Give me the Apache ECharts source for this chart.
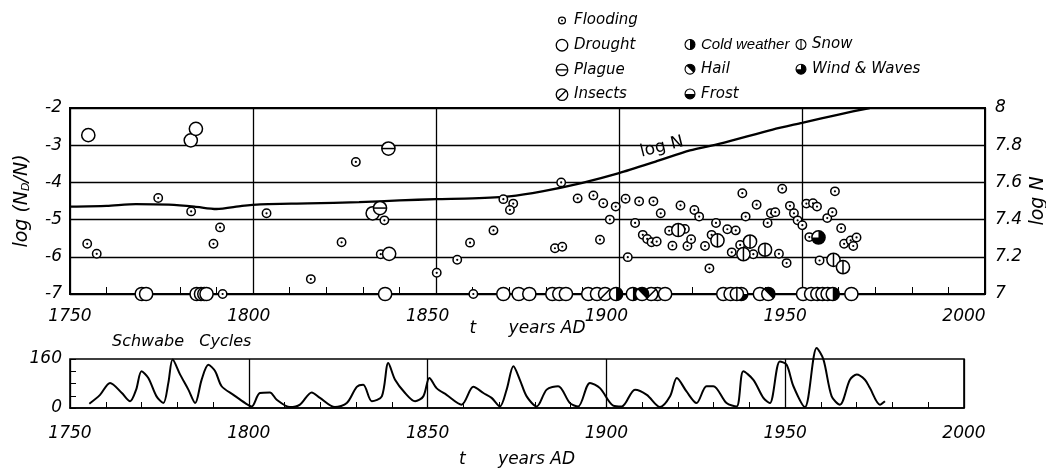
<!DOCTYPE html>
<html><head><meta charset="utf-8">
<script src="https://cdn.jsdelivr.net/npm/echarts@6/dist/echarts.min.js"></script>
<style>html,body{margin:0;padding:0;background:#fff}#c{width:1046px;height:469px}</style>
</head><body><div id="c"></div>
<script>
// ---------- data ----------
const yearTicks = [1750, 1800, 1850, 1900, 1950, 2000];
const leftTicks = [-7, -6, -5, -4, -3, -2];
const rightTicks = [7, 7.2, 7.4, 7.6, 7.8, 8];
const sunTickLabels = [0, 160];

const flooding = [[1754.7,-5.65],[1757.3,-5.92],[1774.1,-4.42],[1783.1,-4.78],[1789.2,-5.65],[1791,-5.21],[1791.7,-7],[1803.7,-4.83],[1815.8,-6.6],[1824.2,-5.61],[1828.1,-3.45],[1835.9,-5.02],[1834.9,-5.93],[1850.2,-6.43],[1855.8,-6.08],[1859.3,-5.62],[1860.2,-7],[1865.7,-5.29],[1868.4,-4.45],[1871.1,-4.57],[1870.2,-4.74],[1882.5,-5.77],[1884.5,-5.73],[1884.2,-4.0],[1888.7,-4.43],[1893,-4.35],[1894.8,-5.54],[1895.7,-4.56],[1897.5,-5.0],[1899.1,-4.65],[1901.8,-4.44],[1902.4,-6.01],[1904.4,-5.09],[1905.5,-4.51],[1906.5,-5.41],[1907.7,-5.52],[1908.9,-5.61],[1910.3,-5.59],[1909.4,-4.51],[1911.4,-4.83],[1913.7,-5.3],[1914.6,-5.7],[1916.8,-4.62],[1918,-5.25],[1918.7,-5.71],[1919.7,-5.53],[1920.6,-4.74],[1921.9,-4.92],[1923.5,-5.71],[1924.7,-6.31],[1925.3,-5.41],[1926.5,-5.09],[1929.6,-5.26],[1930.8,-5.88],[1931.9,-5.29],[1933.1,-5.68],[1933.7,-4.29],[1934.6,-4.92],[1936.7,-5.93],[1937.6,-4.6],[1940.6,-5.09],[1941.5,-4.83],[1942.7,-4.8],[1943.7,-5.92],[1944.6,-4.17],[1945.8,-6.17],[1946.7,-4.63],[1947.8,-4.83],[1948.8,-5.02],[1950.1,-5.15],[1951.2,-4.57],[1952,-5.47],[1953,-4.56],[1954.1,-4.65],[1954.8,-6.1],[1956.9,-4.96],[1958.3,-4.8],[1959,-4.24],[1960.7,-5.23],[1961.5,-5.65],[1963.3,-5.56],[1964,-5.71],[1964.9,-5.48]];
const drought = [[1755,-2.73],[1783,-2.87],[1784.4,-2.56],[1832.7,-4.83],[1837.2,-5.92],[1769.6,-7],[1770.8,-7],[1784.6,-7],[1785.8,-7],[1786.7,-7],[1787.3,-7],[1836.1,-7],[1868.4,-7],[1872.6,-7],[1875.5,-7],[1881.8,-7],[1883.7,-7],[1885.5,-7],[1891.6,-7],[1894,-7],[1910.5,-7],[1912.6,-7],[1928.5,-7],[1930.5,-7],[1938.5,-7],[1950.3,-7],[1952.5,-7],[1963.5,-7]];
const plague = [[1837,-3.09],[1834.7,-4.69]];
const insects = [[1896.2,-7],[1908.8,-7]];
const coldWeather = [[1899.2,-7],[1903.8,-7],[1954.2,-7],[1955.6,-7],[1957,-7],[1958.4,-7]];
const hail = [[1906.3,-7],[1940.8,-7]];
const frost = [[1933.4,-7]];
const snow = [[1916.2,-5.28],[1926.9,-5.56],[1934,-5.93],[1935.8,-5.59],[1939.9,-5.81],[1958.6,-6.08],[1961.2,-6.28],[1932.2,-7]];
const windWaves = [[1954.5,-5.48]];

const logNYears  = [1750,1760,1768,1777,1784,1790,1797,1802,1815,1829,1840,1850,1860,1870,1879,1890,1900,1910,1919.4,1927.6,1942,1950,1960,1968.5];
const logNValues = [7.47,7.474,7.483,7.48,7.47,7.457,7.474,7.482,7.487,7.494,7.503,7.51,7.514,7.525,7.552,7.598,7.65,7.712,7.772,7.808,7.884,7.92,7.965,8.0];

const sunYears  = [1755.4,1758.4,1761.2,1764.5,1766.8,1768.5,1770,1771.9,1774.2,1776.1,1777.5,1778.7,1780.8,1783.1,1785,1786.8,1788.7,1790.6,1792.4,1795.7,1799,1800.8,1803.1,1805.9,1807.8,1811.5,1814.3,1817.6,1819.9,1824.1,1827.4,1830.2,1832,1834.4,1837.2,1839,1840.9,1843.7,1846.5,1848.8,1850.5,1852.5,1855.3,1859.5,1862.8,1865.6,1867.9,1870.2,1872.1,1874,1875.8,1877.7,1880.5,1883.3,1886.5,1889.8,1892.1,1895.4,1898.2,1901.9,1904.3,1908,1911.3,1915,1917.8,1919.7,1922.4,1925.2,1928,1929.9,1933.6,1936.4,1938.3,1941.1,1943.9,1945.7,1948.5,1950.4,1952.3,1955.5,1958.8,1960.7,1963,1965.3,1968.1,1970,1972.3,1973.7,1976.5,1977.9];
const sunValues = [14,43,82,49,22,60,120,98,38,16,82,158,109,60,16,92,141,120,71,43,16,5,49,51,27,3,11,51,33,3,16,69,76,22,38,147,92,49,22,38,98,65,43,11,69,49,33,5,60,136,92,38,5,60,71,16,5,82,65,8,5,60,43,3,38,98,54,16,71,71,16,5,120,92,33,16,152,141,71,3,196,158,38,11,92,109,92,65,11,22];

// ---------- styling / helpers ----------
const FONT = 'DejaVu Sans';
const txt = (size, extra) => Object.assign({fontFamily: FONT, fontStyle: 'italic', fontSize: size, color: '#000'}, extra || {});

const categories = [
  {name: 'Flooding', data: flooding, kind: 'flood'},
  {name: 'Drought', data: drought, kind: 'plain'},
  {name: 'Plague', data: plague, kind: 'hline'},
  {name: 'Insects', data: insects, kind: 'slash'},
  {name: 'Cold weather', data: coldWeather, kind: 'right'},
  {name: 'Hail', data: hail, kind: 'ne'},
  {name: 'Frost', data: frost, kind: 'bottom'},
  {name: 'Snow', data: snow, kind: 'vline'},
  {name: 'Wind & Waves', data: windWaves, kind: 'three'}
];
const SECTORS = {
  right: [-Math.PI/2, Math.PI/2],
  ne: [-3*Math.PI/4, Math.PI/4],
  bottom: [0, Math.PI],
  three: [-Math.PI/2, Math.PI]
};

function makeRender(kind) {
  return function (params, api) {
    const p = api.coord([api.value(0), api.value(1)]);
    const cx = p[0], cy = p[1];
    const r = kind === 'flood' ? 4.2 : 6.6;
    const lw = 1.5;
    const ch = [{type: 'circle', shape: {cx, cy, r}, style: {fill: '#fff', stroke: '#000', lineWidth: lw}}];
    const d = r * 0.72;
    if (kind === 'flood') ch.push({type: 'circle', shape: {cx, cy, r: 1.1}, style: {fill: '#000'}});
    if (kind === 'hline') ch.push({type: 'line', shape: {x1: cx - r, y1: cy, x2: cx + r, y2: cy}, style: {stroke: '#000', lineWidth: lw}});
    if (kind === 'vline') ch.push({type: 'line', shape: {x1: cx, y1: cy - r, x2: cx, y2: cy + r}, style: {stroke: '#000', lineWidth: lw}});
    if (kind === 'slash') ch.push({type: 'line', shape: {x1: cx - d, y1: cy + d, x2: cx + d, y2: cy - d}, style: {stroke: '#000', lineWidth: lw}});
    if (SECTORS[kind]) {
      const a = SECTORS[kind];
      ch.push({type: 'sector', shape: {cx, cy, r0: 0, r: r, startAngle: a[0], endAngle: a[1], clockwise: true}, style: {fill: '#000'}});
    }
    return {type: 'group', children: ch};
  };
}

function iconFor(kind) {
  const R = kind === 'flood' ? 3.9 : 6.6, c = 8;
  let s = `<svg xmlns="http://www.w3.org/2000/svg" width="16" height="16" viewBox="0 0 16 16"><circle cx="${c}" cy="${c}" r="${R}" fill="white" stroke="black" stroke-width="1.5"/>`;
  const d = R * 0.72;
  if (kind === 'flood') s += `<circle cx="${c}" cy="${c}" r="1.1" fill="black"/>`;
  if (kind === 'hline') s += `<line x1="${c-R}" y1="${c}" x2="${c+R}" y2="${c}" stroke="black" stroke-width="1.5"/>`;
  if (kind === 'vline') s += `<line x1="${c}" y1="${c-R}" x2="${c}" y2="${c+R}" stroke="black" stroke-width="1.5"/>`;
  if (kind === 'slash') s += `<line x1="${(c-d).toFixed(2)}" y1="${(c+d).toFixed(2)}" x2="${(c+d).toFixed(2)}" y2="${(c-d).toFixed(2)}" stroke="black" stroke-width="1.5"/>`;
  if (SECTORS[kind]) {
    const a = SECTORS[kind];
    const x1 = c + R*Math.cos(a[0]), y1 = c + R*Math.sin(a[0]);
    const x2 = c + R*Math.cos(a[1]), y2 = c + R*Math.sin(a[1]);
    const large = (a[1]-a[0]) > Math.PI + 1e-6 ? 1 : 0;
    s += `<path d="M${c} ${c} L${x1.toFixed(2)} ${y1.toFixed(2)} A${R} ${R} 0 ${large} 1 ${x2.toFixed(2)} ${y2.toFixed(2)} Z" fill="black"/>`;
  }
  s += '</svg>';
  return 'image://data:image/svg+xml;charset=utf-8,' + encodeURIComponent(s);
}
const legendItem = (name, style) => {
  const c = categories.find(k => k.name === name);
  const o = {name, icon: iconFor(c.kind)};
  if (style) o.textStyle = style;
  return o;
};

const chart = echarts.init(document.getElementById('c'), null, {renderer: 'canvas'});

const scatterSeries = categories.map(c => ({
  name: c.name, type: 'custom', xAxisIndex: 0, yAxisIndex: 0, z: 5,
  renderItem: makeRender(c.kind), data: c.data, encode: {x: 0, y: 1}
}));

const legendBase = {orient: 'vertical', selectedMode: false, itemGap: 9.7, textStyle: txt(15, {lineHeight: 14}), padding: 0};

chart.setOption({
  animation: false,
  backgroundColor: '#fff',
  title: {text: 'Schwabe   Cycles', left: 112, top: 334, padding: 0, textStyle: txt(16, {fontWeight: 'normal'})},
  legend: [
    Object.assign({}, legendBase, {left: 555, top: 13, itemWidth: 14, itemHeight: 14,
      data: ['Flooding', 'Drought', 'Plague', 'Insects'].map(n => legendItem(n))}),
    Object.assign({}, legendBase, {left: 684, top: 37, itemWidth: 12, itemHeight: 12,
      data: [legendItem('Cold weather', {fontFamily: 'Liberation Sans', fontStyle: 'italic', fontSize: 15}), legendItem('Hail'), legendItem('Frost')]}),
    Object.assign({}, legendBase, {left: 795, top: 37, itemWidth: 12, itemHeight: 12,
      data: [legendItem('Snow'), legendItem('Wind & Waves')]})
  ],
  grid: [
    {left: 70, right: 61, top: 108, height: 186, show: true, borderColor: '#000', borderWidth: 2, backgroundColor: 'transparent', containLabel: false, outerBoundsMode: 'none'},
    {left: 70, right: 82, top: 359, height: 49, show: true, borderColor: '#000', borderWidth: 1.6, backgroundColor: 'transparent', containLabel: false, outerBoundsMode: 'none'},
    {left: 70, right: 82, top: 108, height: 186, containLabel: false, outerBoundsMode: 'none'}
  ],
  xAxis: [
    {gridIndex: 0, type: 'value', min: yearTicks[0], max: yearTicks[yearTicks.length-1], interval: 50,
      axisLine: {show: true, lineStyle: {color: '#000', width: 2}},
      axisTick: {show: false, inside: true},
      minorTick: {show: true, splitNumber: 5, length: 7, lineStyle: {color: '#000', width: 1}},
      axisLabel: {show: false},
      splitLine: {show: true, lineStyle: {color: '#000', width: 1.3}},
      name: 't      years AD', nameLocation: 'middle', nameGap: 26, nameTextStyle: txt(17)},
    {gridIndex: 1, type: 'value', min: yearTicks[0], max: yearTicks[yearTicks.length-1], interval: 50,
      axisLine: {show: true, lineStyle: {color: '#000', width: 1.6}},
      axisTick: {show: false, inside: true},
      minorTick: {show: true, splitNumber: 5, length: 6, lineStyle: {color: '#000', width: 1}},
      axisLabel: Object.assign(txt(17), {margin: 17, formatter: v => yearTicks.includes(v) ? String(v) : ''}),
      splitLine: {show: true, lineStyle: {color: '#000', width: 1.3}},
      name: 't      years AD', nameLocation: 'middle', nameGap: 43, nameTextStyle: txt(17)},
    {gridIndex: 2, type: 'value', min: yearTicks[0], max: yearTicks[yearTicks.length-1], interval: 50,
      axisLine: {show: false}, axisTick: {show: false}, splitLine: {show: false},
      axisLabel: Object.assign(txt(17), {margin: 14, formatter: v => yearTicks.includes(v) ? String(v) : ''})}
  ],
  yAxis: [
    {gridIndex: 0, type: 'value', min: leftTicks[0], max: leftTicks[leftTicks.length-1], interval: 1,
      axisLine: {show: false}, axisTick: {show: false},
      splitLine: {show: true, lineStyle: {color: '#000', width: 1.3}},
      axisLabel: Object.assign(txt(17), {margin: 8, formatter: v => leftTicks.includes(v) ? String(v) : ''}),
      name: '{a|log (N}{s|D}{a|/N)}', nameLocation: 'middle', nameGap: 38, nameRotate: 90,
      nameTextStyle: {rich: {a: txt(19), s: txt(11, {padding: [8, 0, 0, 0]})}}},
    {gridIndex: 0, type: 'value', position: 'right', min: rightTicks[0], max: rightTicks[rightTicks.length-1], interval: 0.2,
      axisLine: {show: false}, axisTick: {show: false}, splitLine: {show: false},
      axisLabel: Object.assign(txt(17), {margin: 10, formatter: v => String(Math.round(v * 10) / 10)}),
      name: 'log N', nameLocation: 'middle', nameGap: 44, nameMoveOverlap: false, nameRotate: 90, nameTextStyle: txt(19)},
    {gridIndex: 1, type: 'value', min: 0, max: 160, interval: 40,
      axisLine: {show: false}, axisTick: {show: true, inside: true, length: 6, lineStyle: {color: '#000', width: 1}},
      splitLine: {show: false},
      axisLabel: Object.assign(txt(17), {margin: 8, formatter: v => sunTickLabels.includes(v) ? String(v) : ''})},
    {gridIndex: 2, type: 'value', show: false, min: -7, max: -2}
  ],
  series: [
    {name: 'logN', type: 'line', xAxisIndex: 0, yAxisIndex: 1, z: 3, symbol: 'none', smooth: 0.25,
      lineStyle: {color: '#000', width: 2.3},
      data: logNYears.map((y, i) => [y, logNValues[i]]),
      markPoint: {symbol: 'circle', symbolSize: 0, silent: true,
        label: Object.assign(txt(17, {fontStyle: 'normal'}), {show: true, position: 'inside', rotate: 14, formatter: 'log N'}),
        data: [{coord: [1911.7, 7.79]}]}},
    {name: 'sunspots', type: 'line', xAxisIndex: 1, yAxisIndex: 2, z: 3, symbol: 'none', smooth: 0.3, clip: false,
      lineStyle: {color: '#000', width: 2},
      data: sunYears.map((y, i) => [y, sunValues[i]])}
  ].concat(scatterSeries)
});
</script></body></html>
